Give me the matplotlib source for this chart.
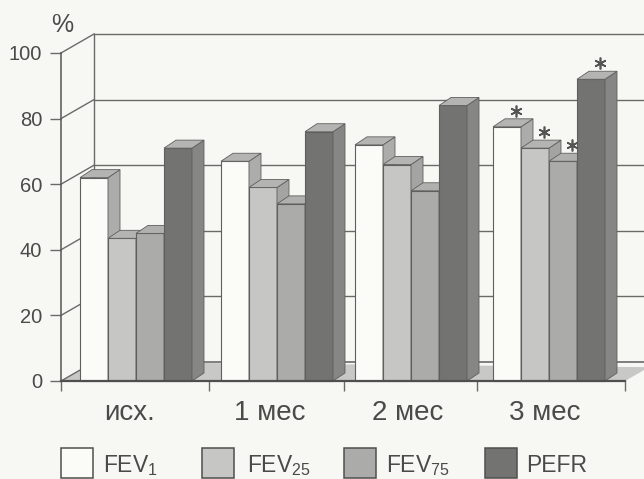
import matplotlib
matplotlib.use("Agg")
import matplotlib.pyplot as plt
from matplotlib.patches import Polygon, Rectangle

categories = ["исх.", "1 мес", "2 мес", "3 мес"]
series_names = ["FEV$_{1}$", "FEV$_{25}$", "FEV$_{75}$", "PEFR"]
fev1 = [62, 67, 72, 77.5]
fev25 = [43.5, 59, 66, 71]
fev75 = [45, 54, 58, 67]
pefr = [71, 76, 84, 92]
y_ticks = [0, 20, 40, 60, 80, 100]
starred = [(3, 0), (3, 1), (3, 2), (3, 3)]

# layout (x axis runs in figure pixels)
W, H = 644, 479
X0, X1, Y0, Y100 = 61, 625, 381, 53
PX = (Y0 - Y100) / 100
group_left = [80, 221, 355, 493]
bar_w = 28
edge_ticks = [61, 209, 344, 477, 625]
label_x = [129, 270, 408, 545]
wall_dx, wall_dy = 33, 19 / PX
bar_dx, bar_dy = 12, 8 / PX

line = "#6a6a68"
bg = "#f7f7f4"
front = ["#fbfbf8", "#c6c6c4", "#ababa9", "#737371"]
side = ["#acacaa", "#a4a4a2", "#8f8f8d", "#868684"]
top = ["#b4b4b2", "#b4b4b2", "#b0b0ae", "#b4b4b2"]

plt.rcParams["font.family"] = ["Liberation Sans", "DejaVu Sans"]
plt.rcParams["mathtext.default"] = "regular"
fig = plt.figure(figsize=(W / 100, H / 100), dpi=100, facecolor=bg)
ax = fig.add_axes([X0 / W, (H - Y0) / H, (X1 - X0) / W, (Y0 - Y100) / H])
ax.set_facecolor("none")
ax.set_xlim(X0, X1)
ax.set_ylim(0, 100)
for s in ("top", "right"):
    ax.spines[s].set_visible(False)
ax.spines["left"].set_color("#555553")
ax.spines["left"].set_linewidth(1.1)
ax.spines["bottom"].set_color("#4f4f4d")
ax.spines["bottom"].set_linewidth(1.6)
ax.spines["left"].set_zorder(50)
ax.spines["bottom"].set_zorder(50)

ax.set_yticks(y_ticks)
ax.set_xticks(edge_ticks)
ax.set_xticklabels([])
ax.set_xticks(label_x, labels=categories, minor=True)
ax.tick_params(axis="y", length=8, width=1, color=line, labelsize=14.5, labelcolor="#4a4a48", pad=5.5)
ax.tick_params(axis="x", which="major", length=7, width=1, color=line)
ax.tick_params(axis="x", which="minor", length=0, labelsize=20, labelcolor="#4a4a48", pad=13.5)

# floor and walls
xr = W + 5
ax.add_patch(Polygon([(X0, 0), (X1, 0), (xr, (xr - X1) / wall_dx * wall_dy), (X0 + wall_dx, wall_dy)],
                     closed=True, fc="#c8c8c6", ec="none", clip_on=False, zorder=1))
for v in y_ticks:
    lw = 1.0 if v else 1.2
    ax.plot([X0, X0 + wall_dx], [v, v + wall_dy], color=line, lw=1.0, clip_on=False, zorder=2)
    ax.plot([X0 + wall_dx, xr], [v + wall_dy, v + wall_dy], color=line, lw=lw, clip_on=False, zorder=2)
ax.plot([X0 + wall_dx, X0 + wall_dx], [wall_dy, 100 + wall_dy], color=line, lw=1.0, clip_on=False, zorder=2)

# 3-D looking bars
series = [fev1, fev25, fev75, pefr]
z = 5
for g, left in enumerate(group_left):
    for i, vals in enumerate(series):
        v = vals[g]
        x = left + i * bar_w
        ax.bar(x, v, width=bar_w, align="edge", color=front[i], edgecolor="#5f5f5d", linewidth=0.8,
               zorder=z, clip_on=False)
        ax.add_patch(Polygon([(x + bar_w, 0), (x + bar_w + bar_dx, bar_dy), (x + bar_w + bar_dx, v + bar_dy), (x + bar_w, v)],
                             closed=True, fc=side[i], ec="#5f5f5d", lw=0.6, clip_on=False, zorder=z))
        ax.add_patch(Polygon([(x, v), (x + bar_dx, v + bar_dy), (x + bar_w + bar_dx, v + bar_dy), (x + bar_w, v)],
                             closed=True, fc=top[i], ec="#5f5f5d", lw=0.6, clip_on=False, zorder=z))
        z += 1

# significance marks
for g, i in starred:
    ax.plot(group_left[g] + (i + 0.5) * bar_w + 9, series[i][g] + 4.8, marker=(6, 2, 0), ms=8.5,
            mew=1.2, color="#555553", clip_on=False, zorder=60, ls="none")

ax.text(62, (Y0 - 25) / PX, "%", fontsize=18, color="#4a4a48", ha="center", va="center", clip_on=False)

# legend
swatch_x = [61, 202, 344, 485]
text_x = [103, 247, 386, 526]
y_low = (Y0 - 478) / PX
y_high = (Y0 - 448) / PX
for i, name in enumerate(series_names):
    ax.add_patch(Rectangle((swatch_x[i], y_low), 32, y_high - y_low, fc=front[i], ec="#4f4f4d", lw=1.1,
                           clip_on=False, label=name))
    ax.text(text_x[i], (Y0 - 472) / PX, name, fontsize=16.5, color="#4a4a48", ha="left", va="baseline", clip_on=False)

fig.savefig("out.png", dpi=100, facecolor=bg)
